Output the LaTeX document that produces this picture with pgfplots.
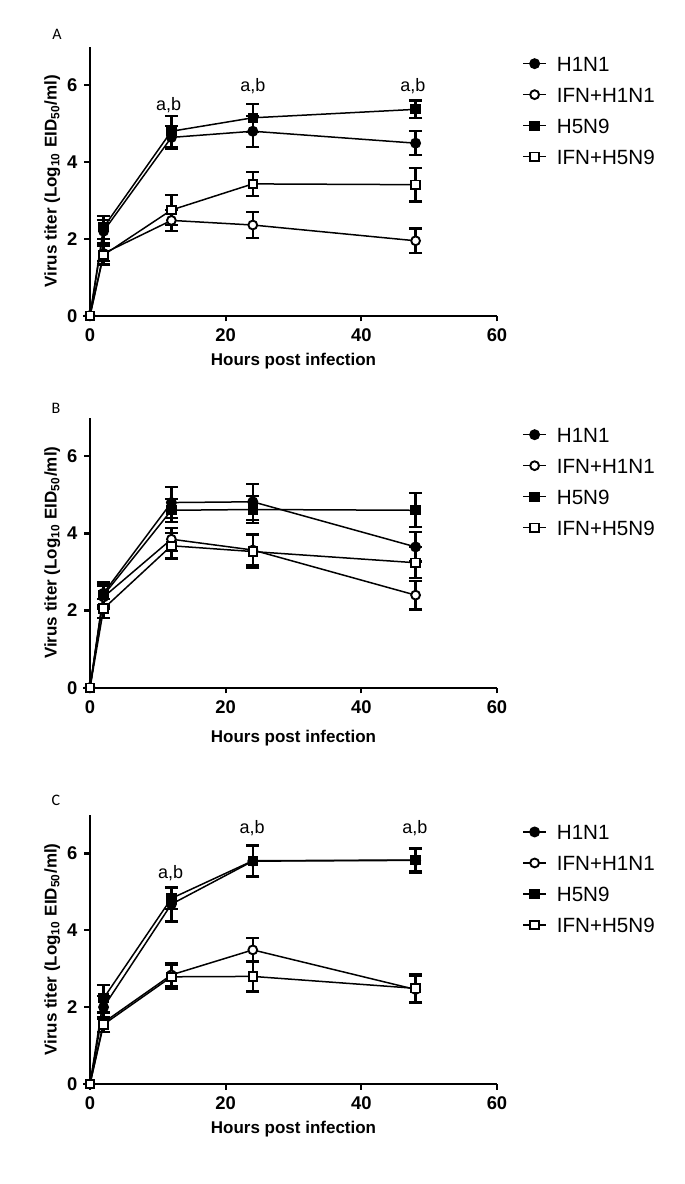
\documentclass[border=0pt]{standalone}
\usepackage{pgfplots}
\pgfplotsset{compat=1.18}
\usepackage{fontspec}
\setmainfont{Liberation Sans}
\newfontfamily\panelfont{Carlito}

\tikzset{ab/.style={font=\fontsize{9}{10}\selectfont}}
\pgfplotsset{
 panel/.style={
  scale only axis, width=203.5pt,
  xmin=0,xmax=60,ymin=0,ymax=7,
  axis x line=bottom, axis y line=left,
  axis line style={-, line width=1.1pt},
  xtick={0,20,40,60}, ytick={0,2,4,6},
  tick align=outside, major tick length=2.8pt,
  tick style={line width=1.1pt, black},
  tick label style={font=\fontsize{9.2}{10}\selectfont\bfseries},
  /pgf/number format/assume math mode=true,
  xlabel={Hours post infection},
  ylabel={Virus titer (Log\textsubscript{10} EID\textsubscript{50}/ml)},
  label style={font=\fontsize{8.5}{10}\selectfont\bfseries},
  ylabel style={at={(axis description cs:-0.093,0.5)},anchor=center},
  clip=false,
  legend cell align=left,
  legend style={draw=none, fill=none, inner sep=0pt, at={(axis description cs:1.0614,0.966)}, anchor=north west,
    font=\fontsize{10.3}{11}\selectfont, nodes={inner sep=0pt, text height=7.4pt, text depth=0pt},
    row sep=8.1pt, column sep=5pt},
  legend image code/.code={\draw[mark repeat=2,mark phase=2] plot coordinates {(0pt,0pt) (5.75pt,0pt) (11.5pt,0pt)};},
 },
 eb/.style={black, line width=0.75pt,
   error bars/y dir=both, error bars/y explicit,
   error bars/error bar style={line width=1.1pt, solid},
   error bars/error mark options={rotate=90, mark size=3.3pt, line width=1.1pt}},
 sH1/.style={mark=*, mark size=2.35pt, mark options={solid, fill=black, line width=0.75pt}},
 sIH1/.style={mark=*, mark size=2.2pt, mark options={solid, fill=white, line width=0.95pt}},
 sH5/.style={mark=square*, mark size=2.2pt, mark options={solid, fill=black, line width=0.75pt}},
 sIH5/.style={mark=square*, mark size=2.1pt, mark options={solid, fill=white, line width=0.95pt}},
}

\pgfplotstableread{
x y e
0 0 0
2 2.2 0.3
12 4.64 0.3
24 4.8 0.4
48 4.49 0.31
}\AHa
\pgfplotstableread{
x y e
0 0 0
2 1.62 0.2
12 2.48 0.28
24 2.36 0.33
48 1.95 0.32
}\AHb
\pgfplotstableread{
x y e
0 0 0
2 2.3 0.3
12 4.8 0.4
24 5.15 0.36
48 5.37 0.23
}\AHc
\pgfplotstableread{
x y e
0 0 0
2 1.58 0.25
12 2.75 0.39
24 3.43 0.32
48 3.41 0.44
}\AHd

\pgfplotstableread{
x y e
0 0 0
2 2.45 0.3
12 4.8 0.4
24 4.82 0.47
48 3.65 0.38
}\BHa
\pgfplotstableread{
x y e
0 0 0
2 2.35 0.3
12 3.85 0.3
24 3.57 0.4
48 2.4 0.37
}\BHb
\pgfplotstableread{
x y e
0 0 0
2 2.4 0.3
12 4.6 0.3
24 4.62 0.35
48 4.6 0.44
}\BHc
\pgfplotstableread{
x y e
0 0 0
2 2.05 0.25
12 3.68 0.33
24 3.53 0.42
48 3.24 0.4
}\BHd

\pgfplotstableread{
x y e
0 0 0
2 2.0 0.3
12 4.68 0.45
24 5.8 0.4
48 5.82 0.32
}\CHa
\pgfplotstableread{
x y e
0 0 0
2 1.6 0.25
12 2.84 0.3
24 3.49 0.3
48 2.46 0.35
}\CHb
\pgfplotstableread{
x y e
0 0 0
2 2.23 0.35
12 4.83 0.28
24 5.81 0.4
48 5.83 0.3
}\CHc
\pgfplotstableread{
x y e
0 0 0
2 1.55 0.2
12 2.79 0.32
24 2.8 0.39
48 2.49 0.37
}\CHd

\begin{document}
\begin{tikzpicture}
\path[use as bounding box] (0,0) rectangle (342.5pt,-592pt);

% Panel A
\node[font=\panelfont\fontsize{8}{9}\selectfont] at (28.5pt,-17pt) {A};
\begin{axis}[panel, at={(45pt,-157.85pt)}, anchor=south west, height=134.5pt,
  xlabel style={at={(axis description cs:0.5,-0.167)},anchor=center}]
\addplot[eb, sH1] table[x=x,y=y,y error=e] {\AHa};
\addlegendentry{H1N1}
\addplot[eb, sIH1] table[x=x,y=y,y error=e] {\AHb};
\addlegendentry{IFN+H1N1}
\addplot[eb, sH5] table[x=x,y=y,y error=e] {\AHc};
\addlegendentry{H5N9}
\addplot[eb, sIH5] table[x=x,y=y,y error=e] {\AHd};
\addlegendentry{IFN+H5N9}
\node[ab] at (axis cs:11.6,5.48) {a,b};
\node[ab] at (axis cs:24,5.98) {a,b};
\node[ab] at (axis cs:47.6,5.98) {a,b};
\end{axis}

% Panel B
\node[font=\panelfont\fontsize{8}{9}\selectfont] at (28pt,-204pt) {B};
\begin{axis}[panel, at={(45pt,-343.85pt)}, anchor=south west, height=135pt,
  xlabel style={at={(axis description cs:0.5,-0.186)},anchor=center}]
\addplot[eb, sH1] table[x=x,y=y,y error=e] {\BHa};
\addlegendentry{H1N1}
\addplot[eb, sIH1] table[x=x,y=y,y error=e] {\BHb};
\addlegendentry{IFN+H1N1}
\addplot[eb, sH5] table[x=x,y=y,y error=e] {\BHc};
\addlegendentry{H5N9}
\addplot[eb, sIH5] table[x=x,y=y,y error=e] {\BHd};
\addlegendentry{IFN+H5N9}
\end{axis}

% Panel C
\node[font=\panelfont\fontsize{8}{9}\selectfont] at (28pt,-400pt) {C};
\begin{axis}[panel, at={(45pt,-542pt)}, anchor=south west, height=134.5pt,
  xlabel style={at={(axis description cs:0.5,-0.167)},anchor=center}]
\addplot[eb, sH1] table[x=x,y=y,y error=e] {\CHa};
\addlegendentry{H1N1}
\addplot[eb, sIH1] table[x=x,y=y,y error=e] {\CHb};
\addlegendentry{IFN+H1N1}
\addplot[eb, sH5] table[x=x,y=y,y error=e] {\CHc};
\addlegendentry{H5N9}
\addplot[eb, sIH5] table[x=x,y=y,y error=e] {\CHd};
\addlegendentry{IFN+H5N9}
\node[ab] at (axis cs:11.9,5.48) {a,b};
\node[ab] at (axis cs:23.9,6.67) {a,b};
\node[ab] at (axis cs:47.9,6.67) {a,b};
\end{axis}
\end{tikzpicture}
\end{document}
